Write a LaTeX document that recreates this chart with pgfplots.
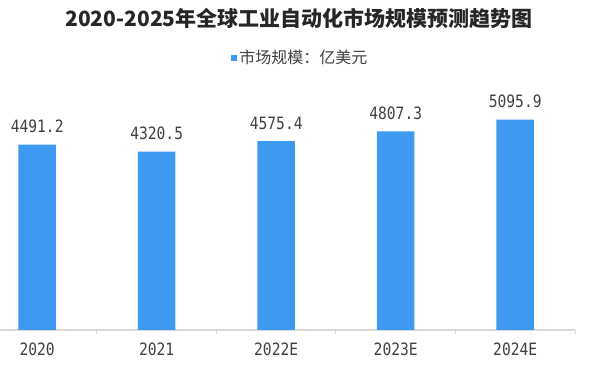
\documentclass[border=0pt]{standalone}
\usepackage{pgfplots}
\pgfplotsset{compat=1.18}
\usepackage{fontspec}
\newfontfamily\cjk{Noto Sans CJK SC}
\newfontfamily\monofont[FakeStretch=0.86]{DejaVu Sans Mono}
\definecolor{barblue}{RGB}{61,154,240}
\definecolor{txt}{RGB}{64,64,64}
\definecolor{axgray}{RGB}{217,217,217}
\begin{document}
\begin{tikzpicture}
\useasboundingbox (0,0) rectangle (592bp,374bp);
\clip (0,0) rectangle (592bp,374bp);
\begin{axis}[
  at={(-22.6bp,44bp)}, anchor=south west, scale only axis,
  width=597.6bp, height=247.8bp,
  xmin=-0.5, xmax=4.5, ymin=0, ymax=6000,
  axis x line*=bottom, axis y line=none,
  axis line style={axgray, line width=1.2bp, -},
  ybar, bar width=37.5bp,
  xtick={0,1,2,3,4}, xticklabels={2020,2021,2022E,2023E,2024E},
  major tick length=0pt,
  xticklabel style={font=\fontsize{17bp}{17bp}\selectfont\monofont, text=txt, anchor=base, yshift=-25bp, inner sep=0pt},
  extra x ticks={-0.5,0.5,1.5,2.5,3.5,4.5},
  extra x tick labels={},
  extra x tick style={tick align=outside, major tick length=4bp, tick style={axgray, line width=1bp}},
  point meta=explicit symbolic,
  nodes near coords,
  every node near coord/.append style={font=\fontsize{17bp}{17bp}\selectfont\monofont, text=txt, inner sep=0pt, yshift=11.5bp},
  legend style={font=\fontsize{16bp}{16bp}\selectfont\cjk, text=txt, draw=none, fill=none, at={(0.54,1.098)}, anchor=center},
  legend image code/.code={\fill[barblue] (0bp,-3.3bp) rectangle (6.6bp,3.3bp);},
]
\addplot[fill=barblue, draw=none] coordinates {
  (0,4491.2) [4491.2]
  (1,4320.5) [4320.5]
  (2,4575.4) [4575.4]
  (3,4807.3) [4807.3]
  (4,5095.9) [5095.9]
};
\addlegendentry{市场规模：亿美元}
\end{axis}
\node[font=\fontsize{21bp}{21bp}\selectfont\cjk\bfseries, text=black!85] at (298.9bp,356bp) {2020-2025年全球工业自动化市场规模预测趋势图};
\end{tikzpicture}
\end{document}
